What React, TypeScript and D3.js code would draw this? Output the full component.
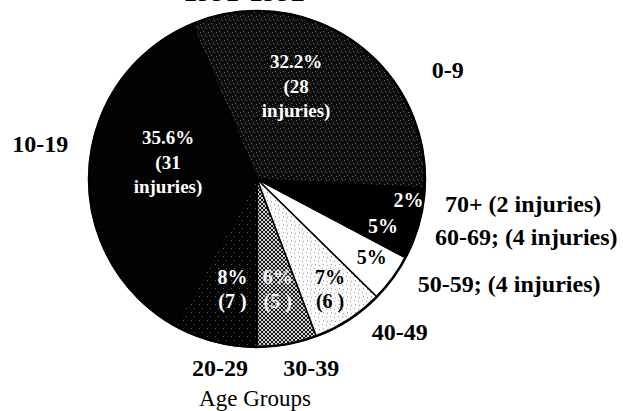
import React, { useMemo } from "react";
import * as d3 from "d3";

// slices in drawing order (counter-clockwise from 6 o'clock)
const ageGroups = ["30-39", "40-49", "50-59", "60-69", "70+", "0-9", "10-19", "20-29"];
const injuries = [5, 6, 4, 4, 2, 28, 31, 7];
const percentText = ["6%", "7%", "5%", "5%", "2%", "32.2%", "35.6%", "8%"];
const countText = ["(5 )", "(6 )", "", "", "", "(28", "(31", "(7 )"];
const wordText = ["", "", "", "", "", "injuries)", "injuries)", ""];
const outerText = [
  "30-39",
  "40-49",
  "50-59; (4 injuries)",
  "60-69; (4 injuries)",
  "70+ (2 injuries)",
  "0-9",
  "10-19",
  "20-29",
];
const titleText = "1991-1992";
const footText = "Age Groups";

// look of each slice
const sliceFill = [
  "url(#checker)",
  "url(#lightDots)",
  "#ffffff",
  "#000000",
  "#000000",
  "url(#speckle)",
  "#030303",
  "url(#sparse)",
];
const innerColor = ["#eeeeee", "#000", "#000", "#fff", "#fff", "#fff", "#fff", "#fff"];

// label placement: [angle nudge in degrees, radius]
const innerPlace: [number, number][] = [
  [-0.3, 112],
  [-0.5, 132],
  [-1.9, 139],
  [0.8, 134.5],
  [0.7, 153],
  [-12.4, 101],
  [7.7, 90.6],
  [-1.9, 112.7],
];
const outerPlace: [number, number, string][] = [
  [-5.7, 196, "middle"],
  [-10, 209, "middle"],
  [-3.1, 192, "start"],
  [-1.7, 187, "start"],
  [0.1, 189.5, "start"],
  [22.9, 206, "start"],
  [7.4, 192, "end"],
  [-3.4, 192, "middle"],
];

const W = 623;
const H = 411;
const cx = 257;
const cy = 179;
const R = 168;
const serif = "Liberation Serif, Times New Roman, Times, serif";

const speckleDots = [[0, 0], [5, 1], [2, 4], [7, 5], [4, 7]];
const sparseDots = [[1, 1], [6, 5]];
const lightDots = [[1, 1], [5, 2], [2, 5], [6, 6]];

const polar = (a: number, r: number) => [cx + r * Math.sin(a), cy - r * Math.cos(a)];

const App = () => {
  const arcs = useMemo(
    () =>
      d3
        .pie<number>()
        .sort(null)
        .startAngle(Math.PI)
        .endAngle(-Math.PI)(injuries),
    []
  );
  const arc = d3.arc<d3.PieArcDatum<number>>().innerRadius(0).outerRadius(R);
  const deg = Math.PI / 180;

  return (
    <svg
      width={W}
      height={H}
      style={{ position: "absolute", left: 0, top: 0, background: "#fff", fontFamily: serif }}
    >
      <defs>
        <pattern id="speckle" width={8} height={8} patternUnits="userSpaceOnUse">
          <rect width={8} height={8} fill="#0c0c0c" />
          {speckleDots.map(([x, y], i) => (
            <rect key={i} x={x} y={y} width={1} height={1} fill="#6a6a6a" />
          ))}
        </pattern>
        <pattern id="sparse" width={8} height={8} patternUnits="userSpaceOnUse">
          <rect width={8} height={8} fill="#050505" />
          {sparseDots.map(([x, y], i) => (
            <rect key={i} x={x} y={y} width={1} height={1} fill="#5a5a5a" />
          ))}
        </pattern>
        <pattern id="lightDots" width={8} height={8} patternUnits="userSpaceOnUse">
          <rect width={8} height={8} fill="#fafafa" />
          {lightDots.map(([x, y], i) => (
            <rect key={i} x={x} y={y} width={1} height={1} fill="#999" />
          ))}
        </pattern>
        <pattern id="checker" width={4} height={4} patternUnits="userSpaceOnUse">
          <rect width={4} height={4} fill="#cfcfcf" />
          <rect x={0} y={0} width={2} height={2} fill="#1a1a1a" />
          <rect x={2} y={2} width={2} height={2} fill="#1a1a1a" />
        </pattern>
      </defs>

      <text x={244} y={1} textAnchor="middle" fontSize={28} fontWeight="bold" fill="#000">
        {titleText}
      </text>

      <g>
        {arcs.map((a, i) => (
          <path
            key={ageGroups[i]}
            d={arc(a) ?? ""}
            transform={`translate(${cx},${cy})`}
            fill={sliceFill[i]}
            stroke="#000"
            strokeWidth={1.5}
            strokeLinejoin="round"
          />
        ))}
        <circle cx={cx} cy={cy} r={R} fill="none" stroke="#000" strokeWidth={2.5} />
      </g>

      {arcs.map((a, i) => {
        const mid = (a.startAngle + a.endAngle) / 2;
        const [nudge, r] = innerPlace[i];
        const [x, y] = polar(mid + nudge * deg, r);
        const lines = [percentText[i], countText[i], wordText[i]].filter((t) => t);
        const size = lines.length > 2 ? 19 : 20;
        const gap = 24.5;
        return (
          <text
            key={"in" + i}
            textAnchor="middle"
            fontSize={size}
            fontWeight="bold"
            fill={innerColor[i]}
          >
            {lines.map((t, j) => (
              <tspan key={j} x={x} y={y + (j - (lines.length - 1) / 2) * gap} dy="0.35em">
                {t}
              </tspan>
            ))}
          </text>
        );
      })}

      {arcs.map((a, i) => {
        const mid = (a.startAngle + a.endAngle) / 2;
        const [nudge, r, anchor] = outerPlace[i];
        const [x, y] = polar(mid + nudge * deg, r);
        return (
          <text
            key={"out" + i}
            x={x}
            y={y}
            dy="0.35em"
            textAnchor={anchor}
            fontSize={24}
            fontWeight="bold"
            fill="#000"
          >
            {outerText[i]}
          </text>
        );
      })}

      <text x={255} y={398} dy="0.35em" textAnchor="middle" fontSize={23} fill="#000">
        {footText}
      </text>
    </svg>
  );
};

export default App;
